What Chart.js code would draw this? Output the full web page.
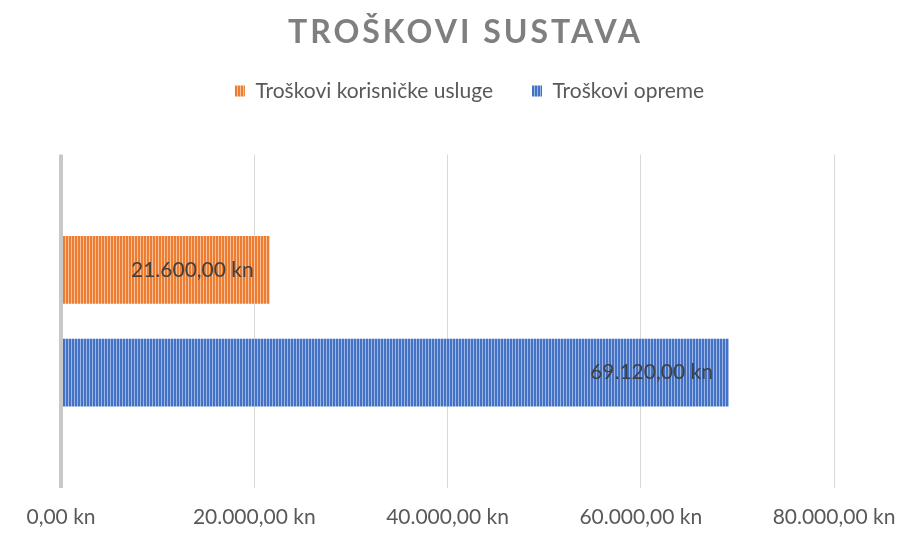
<!DOCTYPE html>
<html>
<head>
<meta charset="utf-8">
<script src="https://cdn.jsdelivr.net/npm/chart.js@4/dist/chart.umd.min.js"></script>
<style>
  html, body { margin: 0; padding: 0; background: #ffffff; }
  #wrap { width: 909px; height: 538px; }
</style>
</head>
<body>
<div id="wrap"><canvas id="c" width="909" height="538"></canvas></div>
<script>
const chartTitle = 'TROŠKOVI SUSTAVA';
const categories = [''];
const seriesNames = ['Troškovi korisničke usluge', 'Troškovi opreme'];
const uslugeValues = [21600];
const opremaValues = [69120];
const xTicks = [0, 20000, 40000, 60000, 80000];

function fmtKn(v) {
  const neg = v < 0; v = Math.abs(v);
  const parts = v.toFixed(2).split('.');
  const intPart = parts[0].replace(/\B(?=(\d{3})+(?!\d))/g, '.');
  return (neg ? '-' : '') + intPart + ',' + parts[1] + ' kn';
}

function stripe(dark, light) {
  const c = document.createElement('canvas');
  c.width = 3; c.height = 4;
  const g = c.getContext('2d');
  g.fillStyle = dark; g.fillRect(0, 0, 3, 4);
  g.fillStyle = light; g.fillRect(2, 0, 1, 4);
  return g.createPattern(c, 'repeat');
}

const orangeFill = stripe('#ED7D31', '#F7BE98');
const blueFill = stripe('#4472C4', '#9DB5E2');

const labelPlugin = {
  id: 'valueLabels',
  afterDatasetsDraw(chart) {
    const ctx = chart.ctx;
    ctx.save();
    ctx.font = '21px Lato';
    ctx.fillStyle = '#404040';
    ctx.textAlign = 'right';
    ctx.textBaseline = 'middle';
    chart.data.datasets.forEach((ds, i) => {
      const meta = chart.getDatasetMeta(i);
      meta.data.forEach((el, j) => {
        ctx.fillText(fmtKn(ds.data[j]), el.x - 16, el.y);
      });
    });
    ctx.restore();
  }
};

const layoutTweaks = {
  id: 'layoutTweaks',
  beforeInit(chart) {
    if (chart.legend) {
      const legend = chart.legend;
      const origFit = legend.fit;
      legend.fit = function () {
        origFit.call(this);
        this.height = 84;
      };
      const origDraw = legend.draw;
      legend.draw = function (area) {
        const ctx = this.ctx;
        ctx.save();
        ctx.translate(22, -29);
        origDraw.call(this, area);
        ctx.restore();
      };
    }
    if (chart.titleBlock) {
      const tb = chart.titleBlock;
      const origDraw = tb.draw;
      tb.draw = function (area) {
        const ctx = this.ctx;
        ctx.save();
        ctx.translate(18, 0);
        ctx.letterSpacing = '3px';
        origDraw.call(this, area);
        ctx.restore();
      };
    }
  }
};

new Chart(document.getElementById('c'), {
  type: 'bar',
  data: {
    labels: categories,
    datasets: [
      { label: seriesNames[0], data: uslugeValues, backgroundColor: orangeFill, borderWidth: 0 },
      { label: seriesNames[1], data: opremaValues, backgroundColor: blueFill, borderWidth: 0 }
    ]
  },
  options: {
    indexAxis: 'y',
    responsive: false,
    animation: false,
    categoryPercentage: 0.616,
    barPercentage: 0.66,
    layout: { padding: { left: 61, right: 75, top: 0, bottom: 0 } },
    plugins: {
      title: {
        display: true,
        text: chartTitle,
        color: '#7F7F7F',
        font: { family: 'Lato', size: 32, weight: 'bold' },
        padding: { top: 13, bottom: 19 }
      },
      legend: {
        display: true,
        position: 'top',
        labels: {
          color: '#595959',
          font: { family: 'Lato', size: 21 },
          boxWidth: 10,
          boxHeight: 11,
          padding: 39
        }
      },
      tooltip: { enabled: false }
    },
    scales: {
      x: {
        type: 'linear',
        min: 0,
        max: 80000,
        afterBuildTicks(scale) { scale.ticks = xTicks.map(v => ({ value: v })); },
        afterFit(scale) {
          scale.height = 50;
          scale.paddingLeft = 0;
          scale.paddingRight = 0;
        },
        ticks: {
          color: '#595959',
          font: { family: 'Lato', size: 21 },
          padding: 17,
          maxRotation: 0,
          callback: (v) => fmtKn(v)
        },
        grid: {
          drawTicks: false,
          color: (ctx) => ctx.index === 0 ? '#C8C8C8' : '#D9D9D9',
          lineWidth: (ctx) => ctx.index === 0 ? 4 : 1
        },
        border: { display: false }
      },
      y: {
        display: false
      }
    }
  },
  plugins: [labelPlugin, layoutTweaks]
});
</script>
</body>
</html>
